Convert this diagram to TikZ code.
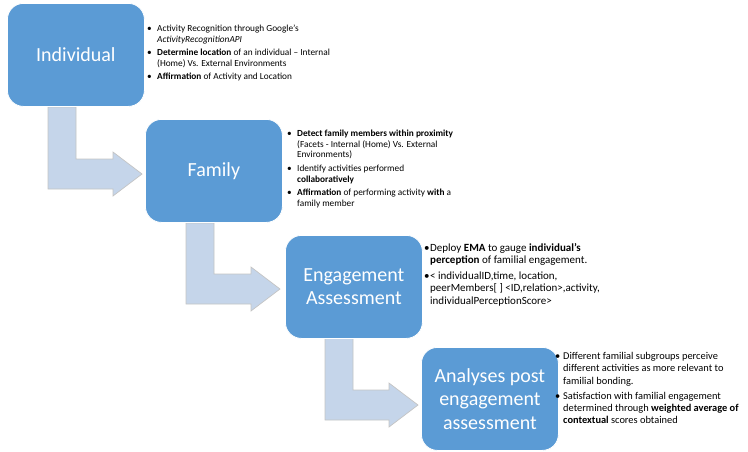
\documentclass[tikz,border=0pt]{standalone}
\usepackage{fontspec}
\setmainfont{Carlito}
\definecolor{boxblue}{HTML}{5B9BD5}
\definecolor{arrowfill}{HTML}{C5D5EA}
\definecolor{arrowline}{HTML}{C4C4C4}
\newcommand{\bitem}[2]{{\hangindent=#1\hangafter=1\noindent\makebox[#1][l]{•}#2\par}}
\tikzset{
  stagebox/.style={draw=white, line width=0.8pt, fill=boxblue, rounded corners=16pt,
    minimum width=137pt, minimum height=103pt, inner sep=0pt, text=white,
    align=center, font=\fontsize{20}{23.5}\selectfont, anchor=north west},
  bent/.style={fill=arrowfill, draw=arrowline, line width=0.7pt, line join=miter},
  notes/.style={anchor=north west, inner sep=0pt, align=left, text=black}
}
\newcommand{\bentarrow}[5]{%
  % #1 stem left x, #2 top y, #3 bar centre y, #4 head base x, #5 tip x
  \draw[bent] (#1,#2) -- ({#1+28},#2) -- ({#1+28},{#3-15}) -- (#4,{#3-15}) -- (#4,{#3-22})
     -- (#5,#3) -- (#4,{#3+22}) -- (#4,{#3+15}) -- (#1,{#3+15}) -- cycle;}
\begin{document}
\begin{tikzpicture}[x=1pt,y=-1pt]
\useasboundingbox (0,0) rectangle (748,451);
% arrows
\bentarrow{48}{107}{174}{113}{142}
\bentarrow{186}{223}{289}{251}{280}
\bentarrow{325}{338}{405}{389}{418}
% boxes
\node[stagebox] (ind) at (7,3) {Individual};
\node[stagebox] (fam) at (145,119) {Family};
\node[stagebox] (eng) at (285,235) {Engagement\\Assessment};
\node[stagebox] (ana) at (421,347) {Analyses post\\engagement\\assessment};
% notes
\node[notes, font=\fontsize{9.3}{10.6}\selectfont] (n1) at (147,25) {%
\parbox{200pt}{%
\bitem{10pt}{Activity Recognition through Google’s\\\textit{ActivityRecognitionAPI}}\vspace{2.5pt}
\bitem{10pt}{\textbf{Determine location} of an individual – Internal\\(Home) Vs. External Environments}\vspace{2.5pt}
\bitem{10pt}{\textbf{Affirmation} of Activity and Location}}};
\node[notes, font=\fontsize{9.3}{10.6}\selectfont] (n2) at (287,130) {%
\parbox{200pt}{%
\bitem{10pt}{\textbf{Detect family members within proximity}\\(Facets - Internal (Home) Vs. External\\Environments)}\vspace{3pt}
\bitem{10pt}{Identify activities performed\\\textbf{collaboratively}}\vspace{3pt}
\bitem{10pt}{\textbf{Affirmation} of performing activity \textbf{with} a\\family member}}};
\node[notes, font=\fontsize{11}{12.5}\selectfont] (n3) at (424,243) {%
\parbox{300pt}{%
\bitem{6pt}{Deploy \textbf{EMA} to gauge \textbf{individual’s}\\\textbf{perception} of familial engagement.}\vspace{3pt}
\bitem{6pt}{< individualID,time, location,\\peerMembers[ ] <ID,relation>,activity,\\individualPerceptionScore>}}};
\node[notes, font=\fontsize{10.4}{12.3}\selectfont] (n4) at (555,352) {%
\parbox{200pt}{%
\bitem{8pt}{Different familial subgroups perceive\\different activities as more relevant to\\familial bonding.}\vspace{3pt}
\bitem{8pt}{Satisfaction with familial engagement\\determined through \textbf{weighted average of}\\\textbf{contextual} scores obtained}}};
\end{tikzpicture}
\end{document}
